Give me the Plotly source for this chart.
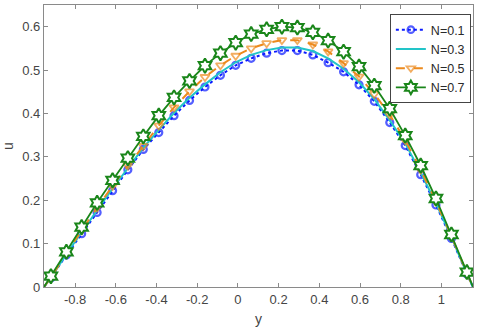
import plotly.graph_objects as go

# channel coordinate y and velocity u for each N
y_vals = [-0.953, -0.919, -0.843, -0.768, -0.692, -0.616, -0.541, -0.465, -0.389, -0.314,
          -0.238, -0.162, -0.086, -0.011, 0.065, 0.141, 0.216, 0.292, 0.368, 0.443,
          0.519, 0.595, 0.670, 0.746, 0.822, 0.898, 0.973, 1.049, 1.125, 1.155]

u_n01 = [0, 0.021, 0.0735, 0.123, 0.172, 0.222, 0.270, 0.317, 0.356, 0.395,
         0.430, 0.461, 0.488, 0.511, 0.527, 0.539, 0.545, 0.545, 0.535, 0.517,
         0.496, 0.466, 0.428, 0.379, 0.326, 0.259, 0.189, 0.112, 0.030, 0]
u_n03 = [0, 0.021, 0.076, 0.127, 0.177, 0.227, 0.275, 0.321, 0.362, 0.401,
         0.436, 0.467, 0.495, 0.518, 0.535, 0.546, 0.552, 0.552, 0.544, 0.527,
         0.503, 0.472, 0.433, 0.384, 0.331, 0.264, 0.193, 0.115, 0.031, 0]
u_n05 = [0, 0.022, 0.078, 0.131, 0.183, 0.233, 0.280, 0.325, 0.372, 0.414,
         0.451, 0.484, 0.511, 0.533, 0.550, 0.562, 0.569, 0.569, 0.559, 0.543,
         0.516, 0.485, 0.445, 0.397, 0.338, 0.270, 0.197, 0.117, 0.032, 0]
u_n07 = [0, 0.025, 0.081, 0.138, 0.194, 0.246, 0.297, 0.347, 0.395, 0.437,
         0.475, 0.510, 0.539, 0.563, 0.583, 0.594, 0.600, 0.598, 0.587, 0.568,
         0.5425, 0.508, 0.464, 0.411, 0.349, 0.280, 0.204, 0.121, 0.0345, 0]

x_ticks = [-0.8, -0.6, -0.4, -0.2, 0, 0.2, 0.4, 0.6, 0.8, 1]
y_ticks = [0, 0.1, 0.2, 0.3, 0.4, 0.5, 0.6]

AXIS_COLOR = "#8a8a8a"
TEXT_COLOR = "#454545"


def marker_sizes(n, size):
    # no markers on the wall end points
    return [0] + [size] * (n - 2) + [0]


n = len(y_vals)
fig = go.Figure()

fig.add_trace(go.Scatter(
    x=y_vals, y=u_n01, mode="lines+markers", name="N=0.1",
    line=dict(color="#0a1aff", width=2, dash="dot"),
    marker=dict(symbol="circle-open", size=marker_sizes(n, 7), color="#0a1aff",
                line=dict(width=2.2, color="#0a1aff")),
))
fig.add_trace(go.Scatter(
    x=y_vals, y=u_n03, mode="lines", name="N=0.3",
    line=dict(color="#22c4c8", width=2),
))
fig.add_trace(go.Scatter(
    x=y_vals, y=u_n05, mode="lines+markers", name="N=0.5",
    line=dict(color="#ec8a1e", width=2, dash="dash"),
    marker=dict(symbol="triangle-down-open", size=marker_sizes(n, 8), color="#ec8a1e",
                line=dict(width=1.8, color="#ec8a1e")),
))
fig.add_trace(go.Scatter(
    x=y_vals, y=u_n07, mode="lines+markers", name="N=0.7",
    line=dict(color="#1a861a", width=1.8),
    marker=dict(symbol="hexagram", size=marker_sizes(n, 11), color="#ffffff",
                opacity=1, line=dict(width=2, color="#1a861a")),
))

axis_common = dict(
    showline=True, linecolor=AXIS_COLOR, linewidth=1.2, mirror="ticks",
    ticks="inside", ticklen=4, tickcolor=AXIS_COLOR, showgrid=False, zeroline=False,
    tickfont=dict(size=13, color=TEXT_COLOR), automargin=False,
)

fig.update_layout(
    width=480, height=334,
    paper_bgcolor="white", plot_bgcolor="white",
    font=dict(family="Liberation Sans, Arial, sans-serif", color=TEXT_COLOR, size=13),
    margin=dict(l=44, r=7, t=5, b=47),
    showlegend=True,
    legend=dict(x=0.995, y=0.968, xanchor="right", yanchor="top",
                bgcolor="white", bordercolor="#444444", borderwidth=1,
                font=dict(size=12.5, color="#2a2a2a"), tracegroupgap=0,
                itemwidth=30),
)
fig.update_xaxes(range=[-0.953, 1.155], tickvals=x_ticks,
                 ticktext=[f"{v:g}" for v in x_ticks],
                 title=dict(text="y", standoff=8, font=dict(size=14)), **axis_common)
fig.update_yaxes(range=[0, 0.65], tickvals=y_ticks,
                 ticktext=[f"{v:g}" for v in y_ticks],
                 title=dict(text="u", standoff=6, font=dict(size=14)), **axis_common)

# drop the default page margin so the figure sits at the window origin
fig.write_html("out.html", config={"displayModeBar": False},
               post_script="document.body.style.margin='0';")
